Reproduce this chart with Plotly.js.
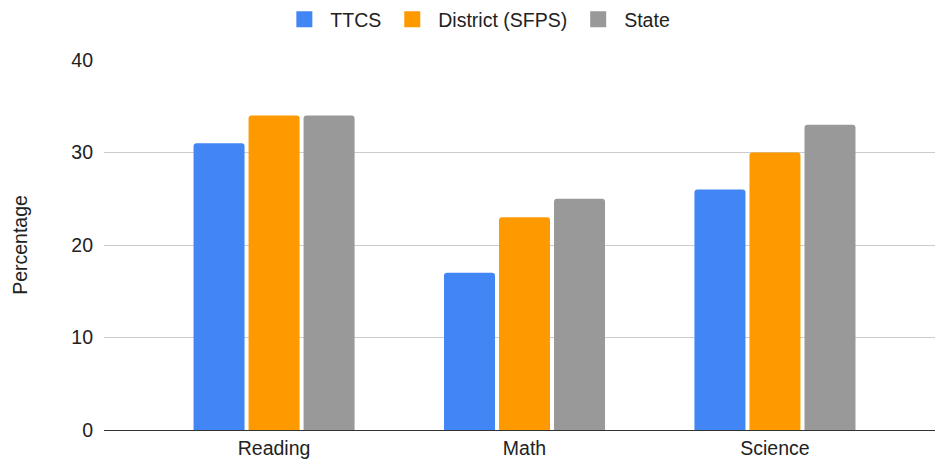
<!DOCTYPE html>
<html>
<head>
<meta charset="utf-8">
<script src="https://cdn.plot.ly/plotly-3.0.1.min.js"></script>
<style>html,body{margin:0;padding:0;background:#fff;}#chart{width:935px;height:461px;}</style>
</head>
<body>
<div id="chart"></div>
<script>
const categories = ["Reading", "Math", "Science"];
const seriesNames = ["TTCS", "District (SFPS)", "State"];
const ttcs = [31, 17, 26];
const district = [34, 23, 30];
const state = [34, 25, 33];
const yTicks = [0, 10, 20, 30, 40];

const colors = ["#4285F4", "#FF9900", "#999999"];
const values = [ttcs, district, state];

const bars = values.map((v, i) => ({
  type: "bar",
  name: seriesNames[i],
  x: categories,
  y: v,
  marker: {color: colors[i], cornerradius: 3},
  showlegend: false,
  hoverinfo: "none"
}));

// legend-only entries (no plotted points) with larger square swatches
const legendItems = seriesNames.map((n, i) => ({
  type: "scatter", mode: "markers", name: n,
  x: [null], y: [null],
  marker: {symbol: "square", size: 16, color: colors[i]},
  showlegend: true, hoverinfo: "none"
}));

const FS = 19.5;
const layout = {
  width: 935, height: 461,
  margin: {l: 104, r: 0, t: 60, b: 31},
  paper_bgcolor: "#fff", plot_bgcolor: "#fff",
  font: {family: "Liberation Sans, Arial, sans-serif", size: FS, color: "#222"},
  barmode: "group",
  bargap: 0.341,
  bargroupgap: 0.073,
  showlegend: true,
  legend: {
    orientation: "h", xref: "container", yref: "container",
    x: 0.51, xanchor: "center", y: 1, yanchor: "top",
    font: {size: FS, color: "#222"}, itemwidth: 42, itemsizing: "trace",
    traceorder: "normal"
  },
  xaxis: {
    type: "category", range: [-0.679, 2.639],
    showgrid: false, zeroline: false, showline: false,
    ticks: "", ticklabelstandoff: 4, tickfont: {size: FS, color: "#222"}
  },
  yaxis: {
    range: [0, 40], tickvals: yTicks, ticktext: yTicks.map(String),
    showgrid: true, gridcolor: "#cccccc", gridwidth: 1,
    zeroline: true, zerolinecolor: "#333333", zerolinewidth: 1,
    showline: false, ticks: "", ticklabelstandoff: 10,
    tickfont: {size: FS, color: "#222"},
    title: {text: "Percentage", font: {size: FS, color: "#222"}, standoff: 38}
  }
};

Plotly.newPlot("chart", bars.concat(legendItems), layout, {staticPlot: true, displayModeBar: false});
</script>
</body>
</html>
